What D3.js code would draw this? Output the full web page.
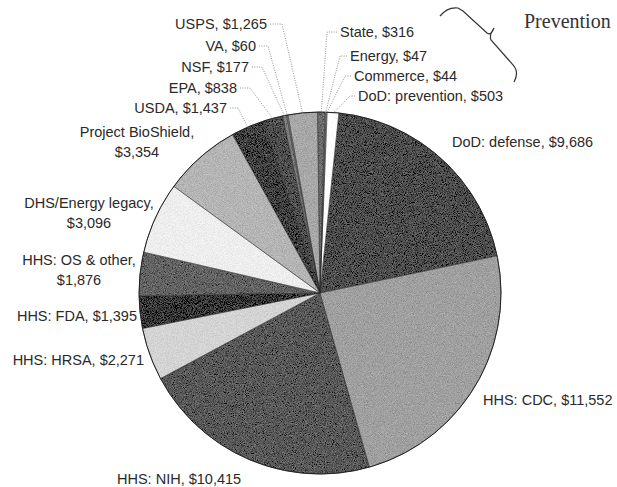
<!DOCTYPE html>
<html>
<head>
<meta charset="utf-8">
<script src="https://cdn.jsdelivr.net/npm/d3@7"></script>
<style>
  body { margin: 0; background: #fff; }
  svg text { font-family: "Liberation Sans", Arial, Helvetica, sans-serif; font-size: 14.5px; fill: #2a2a2a; }
  .note { font-family: "Liberation Serif", "Times New Roman", serif; font-size: 20px; fill: #333; }
  .leader { fill: none; stroke: #777; stroke-width: 0.8; stroke-dasharray: 1 1.4; }
</style>
</head>
<body>
<div id="chart"></div>
<script>
// data, clockwise from just right of 12 o'clock
let names = ["DoD: defense", "HHS: CDC", "HHS: NIH", "HHS: HRSA", "HHS: FDA", "HHS: OS & other",
    "DHS/Energy legacy", "Project BioShield", "USDA", "EPA", "NSF", "VA", "USPS",
    "State", "Energy", "Commerce", "DoD: prevention"];
let values = [9686, 11552, 10415, 2271, 1395, 1876, 3096, 3354, 1437, 838, 177, 60, 1265, 316, 47, 44, 503];
let shades = ["#4d4d4d", "#a0a0a0", "#595959", "#d4d4d4", "#383838", "#636363", "#eeeeee", "#b5b5b5",
    "#414141", "#4f4f4f", "#7c7c7c", "#8f8f8f", "#a8a8a8", "#6c6c6c", "#9a9a9a", "#bdbdbd", "#ffffff"];

let width = 617, height = 487;
let cx = 320, cy = 293, radius = 181;
let startAngle = 6 * Math.PI / 180;

// label layout: x, y (text middle), anchor, wrapped value, elbow x for leader lines
let labelPos = {
    "DoD: defense":      {x: 452, y: 142, anchor: "start"},
    "HHS: CDC":          {x: 483, y: 400, anchor: "start"},
    "HHS: NIH":          {x: 117, y: 479, anchor: "start"},
    "HHS: HRSA":         {x: 144, y: 360, anchor: "end"},
    "HHS: FDA":          {x: 137, y: 316, anchor: "end"},
    "HHS: OS & other":   {x: 79,  y: 260, anchor: "middle", wrap: true},
    "DHS/Energy legacy": {x: 89,  y: 203, anchor: "middle", wrap: true},
    "Project BioShield": {x: 137, y: 132, anchor: "middle", wrap: true},
    "USDA":              {x: 227, y: 108, anchor: "end", elbow: 238},
    "EPA":               {x: 237, y: 88,  anchor: "end", elbow: 250},
    "NSF":               {x: 249, y: 67,  anchor: "end", elbow: 262},
    "VA":                {x: 256, y: 46,  anchor: "end", elbow: 268},
    "USPS":              {x: 267, y: 24,  anchor: "end", elbow: 282},
    "State":             {x: 340, y: 32,  anchor: "start", elbow: 327},
    "Energy":            {x: 350, y: 56,  anchor: "start", elbow: 340},
    "Commerce":          {x: 354, y: 76,  anchor: "start", elbow: 345},
    "DoD: prevention":   {x: 358, y: 96,  anchor: "start", elbow: 350}
};

let fmt = d3.format("$,");

let svg = d3.select("#chart").append("svg")
    .attr("width", width)
    .attr("height", height);

// grainy halftone look of the scan
let defs = svg.append("defs");
let grain = defs.append("filter")
    .attr("id", "grain")
    .attr("filterUnits", "userSpaceOnUse")
    .attr("x", 0).attr("y", 0).attr("width", width).attr("height", height);
grain.append("feTurbulence")
    .attr("type", "fractalNoise").attr("baseFrequency", 1.1).attr("numOctaves", 2).attr("seed", 4)
    .attr("result", "n");
grain.append("feColorMatrix")
    .attr("in", "n").attr("type", "matrix")
    .attr("values", "0.33 0.33 0.33 0 0 0.33 0.33 0.33 0 0 0.33 0.33 0.33 0 0 0 0 0 0 1")
    .attr("result", "g");
grain.append("feComposite")
    .attr("in", "SourceGraphic").attr("in2", "g").attr("operator", "arithmetic")
    .attr("k1", 0).attr("k2", 1).attr("k3", 0.6).attr("k4", -0.3)
    .attr("result", "c");
grain.append("feComposite")
    .attr("in", "c").attr("in2", "SourceGraphic").attr("operator", "in");

let slices = names.map(function(n, i){ return {name: n, value: values[i], shade: shades[i]}; });

let pie = d3.pie()
    .sort(null)
    .value(function(d){ return d.value; })
    .startAngle(startAngle)
    .endAngle(startAngle + 2 * Math.PI);

let arcs = pie(slices);

let arc = d3.arc().innerRadius(0).outerRadius(radius);
let edgeArc = d3.arc().innerRadius(radius - 1).outerRadius(radius - 1);

// filter sits on an untranslated group so its region covers the whole picture
svg.append("g")
    .attr("filter", "url(#grain)")
    .append("g")
    .attr("transform", "translate(" + cx + "," + cy + ")")
    .selectAll("path")
    .data(arcs)
    .enter().append("path")
    .attr("d", arc)
    .attr("fill", function(d){ return d.data.shade; });

let root = svg.append("g")
    .attr("transform", "translate(" + cx + "," + cy + ")");

root.append("g")
    .selectAll("path")
    .data(arcs)
    .enter().append("path")
    .attr("d", arc)
    .attr("fill", "none")
    .attr("stroke", "#2a2a2a")
    .attr("stroke-width", 0.4);

root.append("circle")
    .attr("r", radius)
    .attr("fill", "none")
    .attr("stroke", "#222")
    .attr("stroke-width", 1);

// leader lines for the thin slices at the top
svg.append("g").selectAll("path")
    .data(arcs.filter(function(d){ return labelPos[d.data.name].elbow !== undefined; }))
    .enter().append("path")
    .attr("class", "leader")
    .attr("d", function(d){
        let p = labelPos[d.data.name];
        let c = edgeArc.centroid(d);
        let x0 = p.anchor === "end" ? p.x + 3 : p.x - 3;
        return "M" + x0 + "," + p.y + "L" + p.elbow + "," + p.y + "L" + (cx + c[0]) + "," + (cy + c[1]);
    });

// labels
let labels = svg.append("g").selectAll("text")
    .data(arcs)
    .enter().append("text")
    .attr("text-anchor", function(d){ return labelPos[d.data.name].anchor; })
    .attr("x", function(d){ return labelPos[d.data.name].x; })
    .attr("y", function(d){ return labelPos[d.data.name].y + 5; });

labels.each(function(d){
    let p = labelPos[d.data.name];
    let t = d3.select(this);
    if(p.wrap){
        t.append("tspan").attr("x", p.x).text(d.data.name + ",");
        t.append("tspan").attr("x", p.x).attr("dy", 20).text(fmt(d.data.value));
    } else {
        t.text(d.data.name + ", " + fmt(d.data.value));
    }
});

// brace marking the prevention spending
svg.append("path")
    .attr("d", "M440,16 C445,10 451,7 458,8 L463,11 L487,33 Q491,36 494,28 Q489,35 491,40 L514,66 Q519,73 514,82")
    .attr("fill", "none")
    .attr("stroke", "#333")
    .attr("stroke-width", 1.2);

svg.append("text")
    .attr("class", "note")
    .attr("x", 524)
    .attr("y", 28)
    .text("Prevention");
</script>
</body>
</html>
